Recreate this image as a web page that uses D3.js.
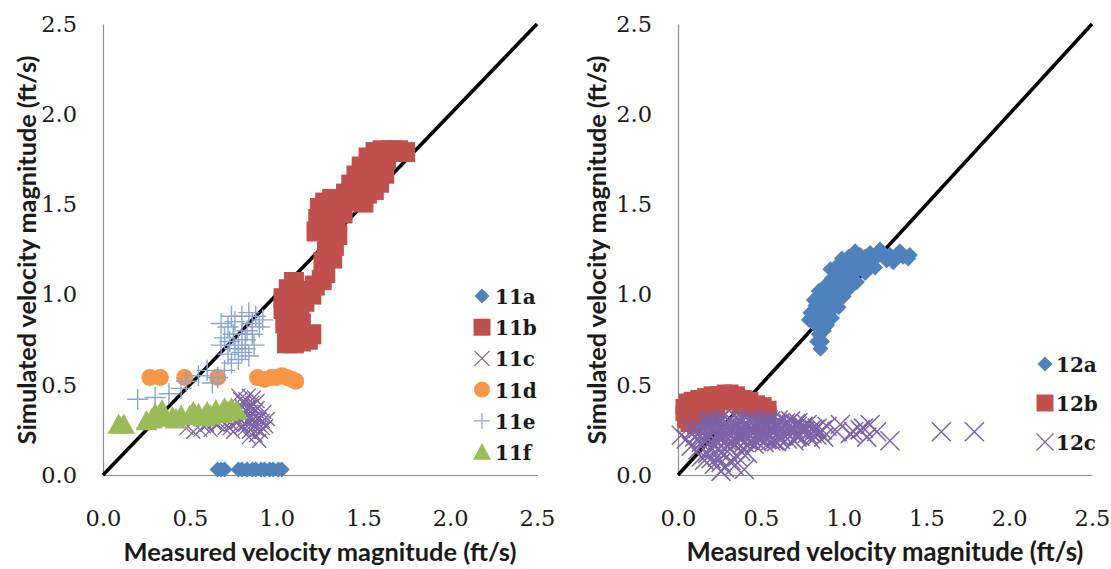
<!DOCTYPE html>
<html>
<head>
<meta charset="utf-8">
<script src="https://cdn.jsdelivr.net/npm/d3@7/dist/d3.min.js"></script>
<style>
  html, body { margin: 0; padding: 0; background: #fff; }
  svg { display: block; }
</style>
</head>
<body>
<svg id="chart" width="1111" height="569"></svg>
<script>
// ---------------- DATA ----------------
const tickValues = [0, 0.5, 1.0, 1.5, 2.0, 2.5];
const xTitle = "Measured velocity magnitude (ft/s)";
const yTitle = "Simulated velocity magnitude (ft/s)";
const oneToOne = [[0, 0], [2.5, 2.5]];

const leftNames = ["11a", "11b", "11c", "11d", "11e", "11f"];
const rightNames = ["12a", "12b", "12c"];

const s11a = [[0.66,0.03],[0.68,0.03],[0.70,0.03],[0.78,0.03],[0.80,0.03],[0.83,0.03],[0.86,0.03],
  [0.88,0.03],[0.91,0.03],[0.93,0.03],[0.96,0.03],[0.98,0.03],[1.01,0.03],[1.03,0.03]];

const s11b = [[1.06,0.73],[1.10,0.73],[1.14,0.74],[1.18,0.75],[1.20,0.78],[1.07,0.78],[1.11,0.80],
  [1.05,0.84],[1.08,0.87],[1.14,0.84],[1.04,0.92],[1.04,0.98],[1.07,1.03],[1.10,1.07],[1.12,1.02],
  [1.09,0.95],[1.13,0.92],[1.16,0.96],[1.20,1.00],[1.22,1.05],[1.26,1.08],[1.28,1.12],[1.27,1.18],
  [1.29,1.24],[1.30,1.30],[1.32,1.20],[1.33,1.27],[1.23,1.35],[1.24,1.42],[1.25,1.48],[1.28,1.51],
  [1.32,1.53],[1.36,1.50],[1.34,1.40],[1.38,1.45],[1.30,1.40],[1.40,1.56],[1.43,1.61],[1.46,1.66],
  [1.49,1.71],[1.52,1.56],[1.56,1.58],[1.59,1.62],[1.50,1.62],[1.44,1.52],[1.50,1.51],[1.53,1.76],
  [1.57,1.79],[1.61,1.80],[1.66,1.80],[1.70,1.80],[1.74,1.79],[1.63,1.75],[1.58,1.70],[1.62,1.67],
  [1.55,1.66],[1.47,1.58],[1.35,1.33],[1.31,1.35]];

const s11c = [[0.48,0.26],[0.52,0.24],[0.58,0.27],[0.62,0.25],[0.66,0.28],[0.70,0.26],[0.72,0.30],
  [0.74,0.28],[0.76,0.32],[0.78,0.35],[0.80,0.38],[0.82,0.42],[0.84,0.44],[0.86,0.40],[0.85,0.35],
  [0.88,0.32],[0.90,0.28],[0.92,0.30],[0.93,0.35],[0.91,0.24],[0.88,0.22],[0.86,0.26],[0.83,0.30],
  [0.80,0.27],[0.78,0.44],[0.82,0.36],[0.90,0.19],[0.68,0.30],[0.75,0.24],[0.87,0.43],[0.94,0.27],
  [0.84,0.24],[0.79,0.31],[0.89,0.37],[0.64,0.29],[0.56,0.25],[0.81,0.40],[0.83,0.33],[0.87,0.29],
  [0.89,0.41],[0.85,0.38],[0.91,0.33],[0.77,0.29],[0.73,0.26],[0.81,0.25],[0.86,0.31],[0.92,0.26],
  [0.88,0.36],[0.79,0.42],[0.95,0.31],[0.60,0.28],[0.70,0.32],[0.89,0.25],[0.84,0.21],[0.82,0.28],
  [0.86,0.34],[0.90,0.31],[0.84,0.38],[0.80,0.33],[0.87,0.27]];

const s11d = [[0.27,0.54],[0.33,0.54],[0.47,0.54],[0.66,0.54],[0.89,0.54],[0.93,0.53],[0.97,0.54],
  [1.00,0.54],[1.03,0.55],[1.06,0.54],[1.09,0.53],[1.11,0.52]];

const s11e = [[0.20,0.42],[0.30,0.43],[0.38,0.45],[0.45,0.48],[0.48,0.52],[0.55,0.55],[0.60,0.58],
  [0.63,0.51],[0.66,0.54],[0.68,0.84],[0.72,0.82],[0.76,0.85],[0.80,0.88],[0.84,0.90],[0.88,0.88],
  [0.92,0.86],[0.75,0.78],[0.78,0.72],[0.80,0.68],[0.82,0.75],[0.78,0.64],[0.74,0.62],[0.70,0.58],
  [0.84,0.66],[0.83,0.80],[0.86,0.84],[0.76,0.70],[0.72,0.67],[0.80,0.78],[0.70,0.76],[0.74,0.88],
  [0.86,0.78],[0.90,0.82],[0.82,0.70],[0.68,0.72],[0.73,0.74],[0.87,0.72]];

const s11f = [[0.09,0.28],[0.12,0.28],[0.25,0.30],[0.28,0.31],[0.32,0.33],[0.35,0.32],[0.40,0.32],
  [0.45,0.33],[0.50,0.33],[0.55,0.34],[0.60,0.35],[0.65,0.36],[0.70,0.37],[0.74,0.37],[0.77,0.36],
  [0.30,0.34],[0.42,0.31],[0.62,0.33],[0.68,0.34],[0.72,0.35],[0.34,0.36],[0.52,0.35],[0.58,0.32]];

const s12a = [[0.86,0.70],[0.84,0.74],[0.87,0.74],[0.85,0.78],[0.88,0.80],[0.82,0.84],[0.85,0.84],
  [0.88,0.86],[0.81,0.88],[0.84,0.90],[0.88,0.91],[0.91,0.90],[0.83,0.94],[0.87,0.96],[0.91,0.95],
  [0.94,0.96],[0.86,0.99],[0.90,1.00],[0.94,1.01],[0.97,1.00],[0.92,1.04],[0.96,1.05],[1.00,1.04],
  [0.95,1.09],[0.99,1.09],[1.03,1.08],[0.98,1.13],[1.02,1.13],[1.06,1.12],[1.01,1.17],[1.04,1.17],
  [0.99,1.20],[1.03,1.21],[1.07,1.20],[1.10,1.22],[1.13,1.21],[1.16,1.23],[1.20,1.22],[1.24,1.22],
  [1.28,1.22],[1.32,1.21],[1.36,1.21],[1.39,1.20],[1.12,1.17],[1.16,1.18],[1.09,1.14],[1.13,1.12],
  [1.18,1.19],[1.26,1.19],[1.30,1.18],[0.80,0.90],[0.79,0.86],[0.82,0.97],[0.85,1.02],[0.89,1.05],
  [0.93,1.09],[0.92,1.14],[0.96,1.16],[1.08,1.07],[1.04,1.04],[1.00,0.99],[0.97,0.93],[0.93,0.87],
  [0.90,0.83],[1.07,1.24],[1.22,1.25],[1.34,1.24],[1.40,1.22],[1.19,1.15]];

const s12b = [[0.03,0.34],[0.03,0.38],[0.05,0.41],[0.08,0.42],[0.12,0.43],[0.16,0.44],[0.20,0.45],
  [0.24,0.45],[0.28,0.46],[0.32,0.46],[0.36,0.45],[0.40,0.43],[0.44,0.42],[0.48,0.40],[0.52,0.39],
  [0.55,0.37],[0.55,0.34],[0.52,0.33],[0.47,0.34],[0.42,0.36],[0.37,0.38],[0.33,0.40],[0.26,0.40],
  [0.22,0.39],[0.18,0.38],[0.14,0.36],[0.10,0.34],[0.07,0.32],[0.06,0.28],[0.10,0.27],[0.14,0.29],
  [0.18,0.31],[0.08,0.38],[0.12,0.39],[0.17,0.41],[0.22,0.42],[0.38,0.41],[0.45,0.38],[0.50,0.36],
  [0.24,0.35],[0.20,0.33],[0.13,0.32],[0.04,0.30]];

const s12c = [[0.20,0.30],[0.26,0.31],[0.32,0.29],[0.38,0.30],[0.44,0.31],[0.50,0.29],[0.56,0.30],
  [0.62,0.29],[0.68,0.30],[0.12,0.26],[0.18,0.27],[0.24,0.28],[0.30,0.26],[0.36,0.27],[0.42,0.28],
  [0.48,0.26],[0.54,0.27],[0.60,0.28],[0.66,0.26],[0.72,0.27],[0.78,0.28],[0.84,0.26],[0.90,0.27],
  [0.15,0.23],[0.21,0.24],[0.27,0.23],[0.33,0.25],[0.39,0.24],[0.45,0.23],[0.51,0.25],[0.57,0.24],
  [0.63,0.23],[0.69,0.25],[0.75,0.24],[0.81,0.23],[0.87,0.25],[0.96,0.24],[1.04,0.23],[1.10,0.25],
  [0.10,0.21],[0.18,0.20],[0.24,0.21],[0.30,0.20],[0.36,0.21],[0.42,0.20],[0.48,0.21],[0.54,0.20],
  [0.60,0.21],[0.66,0.20],[0.72,0.21],[0.80,0.20],[0.88,0.21],[0.14,0.18],[0.22,0.17],[0.28,0.18],
  [0.34,0.17],[0.40,0.18],[0.46,0.17],[0.52,0.18],[0.58,0.19],[0.12,0.14],[0.18,0.12],[0.24,0.10],
  [0.30,0.13],[0.36,0.10],[0.16,0.08],[0.22,0.06],[0.28,0.04],[0.34,0.05],[0.40,0.03],[0.26,0.02],
  [0.20,0.15],[0.42,0.12],[0.02,0.22],[0.05,0.20],[0.08,0.16],[0.98,0.28],[1.06,0.24],[1.12,0.26],
  [1.16,0.28],[1.20,0.24],[1.14,0.21],[1.28,0.19],[1.59,0.24],[1.79,0.24],
  [0.17,0.29],[0.23,0.285],[0.29,0.29],[0.35,0.28],[0.41,0.29],[0.47,0.285],[0.53,0.29],[0.59,0.28],
  [0.65,0.29],[0.71,0.285],[0.09,0.25],[0.15,0.26],[0.21,0.255],[0.27,0.26],[0.33,0.255],[0.39,0.26],
  [0.45,0.25],[0.51,0.26],[0.57,0.255],[0.63,0.26],[0.69,0.25],[0.75,0.26],[0.81,0.255],
  [0.12,0.225],[0.18,0.23],[0.24,0.22],[0.30,0.23],[0.36,0.225],[0.42,0.23],[0.48,0.22],[0.54,0.23],
  [0.60,0.225],[0.66,0.23],[0.72,0.22],[0.78,0.23],[0.84,0.22],[0.16,0.195],[0.20,0.19],[0.26,0.20],
  [0.32,0.19],[0.38,0.195],[0.44,0.19],[0.50,0.20],[0.56,0.19],[0.62,0.195],[0.70,0.19],
  [0.14,0.10],[0.20,0.09],[0.32,0.08],[0.38,0.13],[0.26,0.07],[0.30,0.16],[0.24,0.14],
  [0.185,0.305],[0.215,0.275],[0.245,0.305],[0.275,0.275],[0.305,0.305],[0.335,0.275],[0.365,0.305],
  [0.395,0.275],[0.425,0.305],[0.455,0.275],[0.485,0.305],[0.515,0.275],[0.545,0.305],[0.575,0.275],
  [0.605,0.305],[0.635,0.275],[0.665,0.285],[0.695,0.265],[0.725,0.29],[0.755,0.27],
  [0.165,0.245],[0.195,0.215],[0.225,0.245],[0.255,0.215],[0.285,0.245],[0.315,0.215],[0.345,0.245],
  [0.375,0.215],[0.405,0.245],[0.435,0.215],[0.465,0.245],[0.495,0.215],[0.525,0.245],[0.555,0.215],
  [0.585,0.245],[0.615,0.215],[0.645,0.245],[0.675,0.215],[0.705,0.24],[0.735,0.215],[0.765,0.245],
  [0.795,0.24],[0.825,0.25],[0.855,0.235],[0.145,0.205],[0.235,0.185],[0.295,0.19],[0.355,0.185],
  [0.415,0.195],[0.475,0.185],[0.535,0.195],[0.595,0.185]];

// ---------------- STYLE ----------------
const BLUE = "#4F81BD", RED = "#C0504D", PURPLE = "#7E62A6", ORANGE = "#F79646",
      LBLUE = "#8AA4D2", GREEN = "#9BBB59";

const svg = d3.select("#chart");

function markerPath(type, s) {
  const h = s / 2;
  switch (type) {
    case "diamond": return `M0,${-h}L${h},0L0,${h}L${-h},0Z`;
    case "square": return `M${-h},${-h}H${h}V${h}H${-h}Z`;
    case "circle": return `M${h},0A${h},${h} 0 1,1 ${-h},0A${h},${h} 0 1,1 ${h},0Z`;
    case "triangle": return `M0,${-h}L${h},${h*0.85}L${-h},${h*0.85}Z`;
    case "x": return `M${-h},${-h}L${h},${h}M${-h},${h}L${h},${-h}`;
    case "plus": return `M${-h},0H${h}M0,${-h}V${h}`;
  }
}
const stroked = t => t === "x" || t === "plus";

function drawPanel(cfg) {
  const x = d3.scaleLinear().domain([0, 2.5]).range([cfg.x0, cfg.x1]);
  const y = d3.scaleLinear().domain([0, 2.5]).range([475, 24]);
  const g = svg.append("g");

  // axes
  const ax = g.append("g").attr("transform", "translate(0,475)")
    .call(d3.axisBottom(x).tickValues(tickValues).tickFormat(d3.format(".1f")).tickSize(0).tickPadding(35));
  const ay = g.append("g").attr("transform", `translate(${cfg.x0},0)`)
    .call(d3.axisLeft(y).tickValues(tickValues).tickFormat(d3.format(".1f")).tickSize(0).tickPadding(26));
  [ax, ay].forEach(a => {
    a.attr("font-size", 22.5).attr("font-family", "DejaVu Serif");
    a.select(".domain").attr("stroke", "#8C8C8C").attr("stroke-width", 1.2);
    a.selectAll("text").style("font-family", "DejaVu Serif").style("font-size", "22.5px").attr("fill", "#1a1a1a");
  });

  // 1:1 line
  g.append("path").datum(oneToOne)
    .attr("d", d3.line().x(d => x(d[0])).y(d => y(d[1])))
    .attr("stroke", "#000").attr("stroke-width", 3.6).attr("fill", "none");

  // series
  cfg.series.forEach(s => {
    g.append("g").selectAll("path").data(s.data).join("path")
      .attr("transform", d => `translate(${x(d[0])},${y(d[1])})`)
      .attr("d", markerPath(s.type, s.size))
      .attr("fill", stroked(s.type) ? "none" : s.color)
      .attr("stroke", stroked(s.type) ? s.color : "none")
      .attr("stroke-width", s.sw || 1.2);
  });

  // legend
  cfg.series.forEach((s, i) => {
    const ly = cfg.legY + i * cfg.legDy;
    g.append("path").attr("transform", `translate(${cfg.legMx},${ly})`)
      .attr("d", markerPath(s.type, s.legSize))
      .attr("fill", stroked(s.type) ? "none" : s.color)
      .attr("stroke", stroked(s.type) ? s.color : "none")
      .attr("stroke-width", 1.2);
    g.append("text").attr("x", cfg.legTx).attr("y", ly + 8)
      .attr("font-family", "DejaVu Serif").attr("font-weight", "bold").attr("font-size", 20)
      .attr("fill", "#1a1a1a").text(s.name);
  });

  // titles
  const xt = g.append("text").attr("x", (cfg.x0 + cfg.x1) / 2).attr("y", 561)
    .attr("text-anchor", "middle").attr("font-family", "Lato").attr("font-weight", "bold")
    .attr("font-size", 22).attr("fill", "#1a1a1a").text(xTitle);
  const yt = g.append("text").attr("transform", `translate(${cfg.yTitleX},250) rotate(-90)`)
    .attr("text-anchor", "middle").attr("font-family", "Lato").attr("font-weight", "bold")
    .attr("font-size", 22).attr("fill", "#1a1a1a").text(yTitle);
  [[xt, cfg.xTitleW], [yt, 389]].forEach(([t, w]) => {
    const len = t.node().getComputedTextLength();
    t.attr("font-size", 22 * w / len);
  });
}

drawPanel({
  x0: 103, x1: 537, yTitleX: 36, xTitleW: 393,
  legMx: 482, legTx: 495, legY: 296, legDy: 31.2,
  series: [
    { name: leftNames[0], data: s11a, type: "diamond", size: 16, legSize: 15, color: BLUE },
    { name: leftNames[1], data: s11b, type: "square", size: 20, legSize: 17, color: RED },
    { name: leftNames[2], data: s11c, type: "x", size: 14, legSize: 15, color: PURPLE, sw: 1.3 },
    { name: leftNames[3], data: s11d, type: "circle", size: 17, legSize: 16, color: ORANGE },
    { name: leftNames[4], data: s11e, type: "plus", size: 21, legSize: 16, color: LBLUE, sw: 1.4 },
    { name: leftNames[5], data: s11f, type: "triangle", size: 22, legSize: 18, color: GREEN }
  ]
});

drawPanel({
  x0: 678, x1: 1092, yTitleX: 606, xTitleW: 397,
  legMx: 1045, legTx: 1056, legY: 364, legDy: 39,
  series: [
    { name: rightNames[0], data: s12a, type: "diamond", size: 16, legSize: 15, color: BLUE },
    { name: rightNames[1], data: s12b, type: "square", size: 15, legSize: 17, color: RED },
    { name: rightNames[2], data: s12c, type: "x", size: 19, legSize: 17, color: PURPLE, sw: 1.5 }
  ]
});
</script>
</body>
</html>
